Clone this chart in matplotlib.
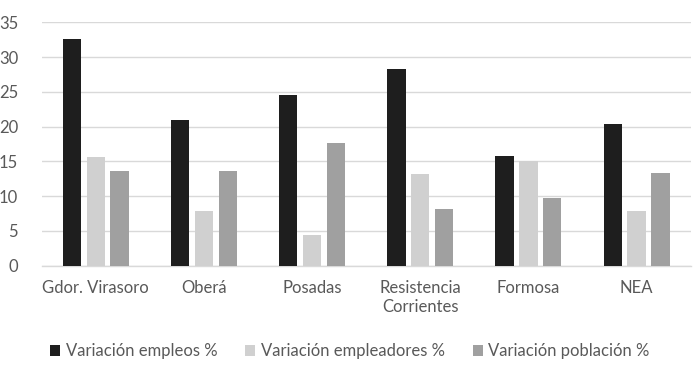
import numpy as np
import matplotlib.pyplot as plt

plt.rcParams['font.family'] = ['Lato', 'DejaVu Sans']

categorias = ['Gdor. Virasoro', 'Oberá', 'Posadas', 'Resistencia\nCorrientes', 'Formosa', 'NEA']
empleos = [32.6, 21.0, 24.5, 28.3, 15.8, 20.4]
empleadores = [15.6, 7.8, 4.4, 13.2, 15.0, 7.9]
poblacion = [13.6, 13.6, 17.6, 8.1, 9.8, 13.3]

series = [
    ('Variación empleos %', empleos, '#1e1e1e'),
    ('Variación empleadores %', empleadores, '#d0d0d0'),
    ('Variación población %', poblacion, '#a0a0a0'),
]

fig = plt.figure(figsize=(7, 3.68), dpi=100)
ax = fig.add_axes([0.0596, 0.278, 0.927, 0.6612])

x = np.arange(len(categorias))
w = 0.17
step = 0.22
for i, (nombre, vals, color) in enumerate(series):
    ax.bar(x + (i - 1) * step, vals, width=w, color=color, label=nombre, zorder=3)

ax.set_xlim(-0.5, len(categorias) - 0.5)
ax.set_ylim(0, 35)
ax.set_yticks(range(0, 36, 5))
ax.grid(axis='y', color='#d9d9d9', linewidth=1, zorder=0)
for s in ['top', 'right', 'left']:
    ax.spines[s].set_visible(False)
ax.spines['bottom'].set_color('#d9d9d9')
ax.spines['bottom'].set_linewidth(1)
ax.tick_params(axis='both', length=0, colors='#595959', labelsize=12)
ax.tick_params(axis='y', pad=17)
ax.tick_params(axis='x', pad=10)
ax.set_xticks(x)
ax.set_xticklabels(categorias, linespacing=1.25)

leg = fig.legend(loc='center', bbox_to_anchor=(0.5, 0.045), ncol=3, frameon=False,
                 fontsize=12, handlelength=0.6, handleheight=0.6, handletextpad=0.35,
                 columnspacing=1.65)
for t in leg.get_texts():
    t.set_color('#595959')

fig.savefig('out.png', dpi=100)
